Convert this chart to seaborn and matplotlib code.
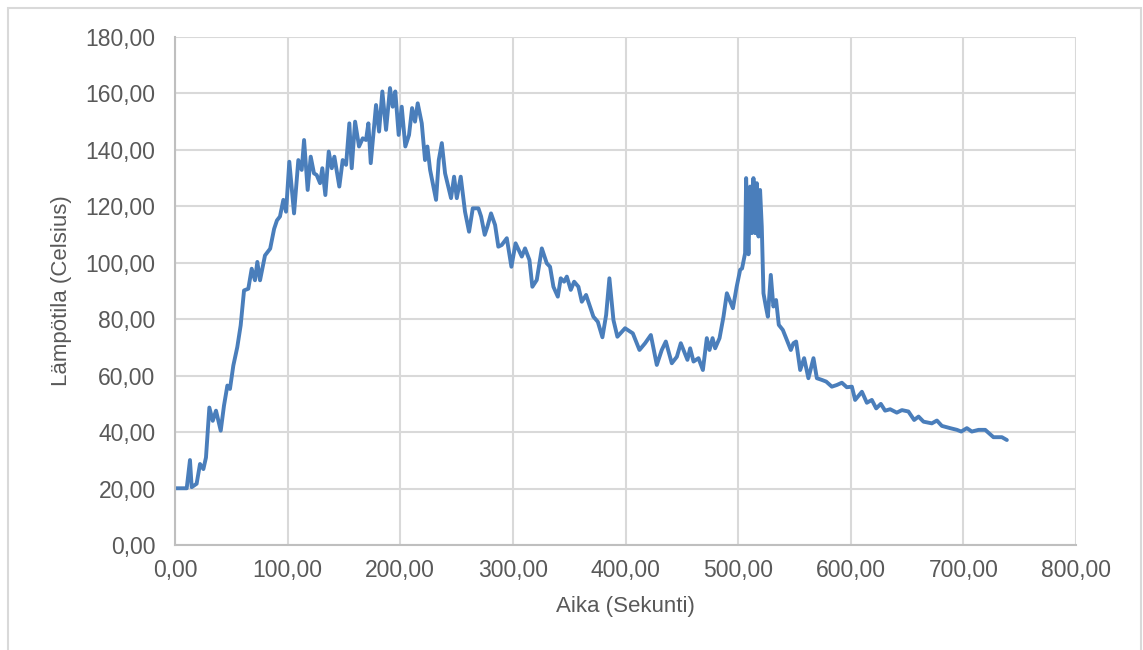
import numpy as np
import pandas as pd
import seaborn as sns
from matplotlib import pyplot as plt
from matplotlib.patches import Rectangle
from matplotlib.ticker import FuncFormatter, MultipleLocator

# time (s) and temperature (C)
aika = [
    0, 10.4, 13.3, 14.8, 19.2, 22.2, 25.2, 27.5, 30.5, 33.5, 36.4, 40.6, 43.5, 46.5, 48.8,
    51.8, 55.3, 58.3, 61.3, 65.1, 68.1, 71.0, 73.1, 75.5, 79.9, 84.5, 88, 90.5, 93.2, 96.2,
    98.6, 101.5, 105.7, 109.5, 112.5, 114.6, 117.8, 120.5, 123.4, 125.8, 128.8, 130.8, 133.5,
    136.5, 139.2, 141.5, 145.9, 148.9, 151.9, 154.8, 156.9, 159.9, 163.4, 166.7, 169.6, 171.7,
    173.8, 178.5, 181.2, 184.1, 187.4, 190.9, 193.3, 195.6, 198.6, 201.3, 204.5, 207.8, 210.5,
    213.1, 215.5, 219.1, 222, 224.1, 226.5, 231.8, 234.2, 236.9, 239.8, 245.1, 247.8, 250.2,
    253.7, 257.5, 261.1, 264.4, 269.4, 271.8, 275, 277.4, 280.6, 284.2, 287.1, 290.1, 294.6,
    298.7, 302.4, 305.8, 307.9, 310.8, 314.7, 317.3, 321.2, 325.7, 330.1, 333, 336, 339.9,
    342.5, 345.5, 347.9, 351.4, 354.4, 358.2, 361.2, 365, 371.5, 375.4, 379.5, 382.8, 385.7,
    389.3, 392.8, 399.6, 406.5, 412.4, 417.4, 422.5, 427.8, 432.2, 435.8, 441.1, 445.6, 449.1,
    452.7, 455, 457.4, 460.4, 464.8, 468.7, 472.2, 474.6, 477.3, 479.6, 483.5, 487, 490,
    495.4, 498.7, 501.8, 503.5, 506.2, 507.1, 509.2, 510.7, 512.2, 513.6, 515.1, 516.6, 518.1,
    519.5, 521, 522.5, 524.6, 526.4, 529, 531.3, 533.7, 536.1, 539.7, 543.8, 546.8, 549.1,
    551.5, 555.1, 558.6, 562.4, 566.9, 569.9, 574.3, 578.2, 583.2, 587.7, 592.1, 596.5, 601,
    603.9, 609.9, 614.3, 618.7, 622.6, 626.7, 630.5, 635, 640.9, 645.4, 651.2, 656.3, 660.2,
    664.6, 672, 676.5, 680.9, 688.3, 694.3, 698.1, 703.1, 707.5, 713.5, 719.4, 726.7, 734.2,
    738.6,
]
lampotila = [
    20.1, 20.1, 30.1, 20.5, 21.7, 28.7, 26.9, 31, 48.7, 44.0, 47.6, 40.5, 49.4, 56.5, 55.3,
    63.6, 70.1, 77.8, 90.2, 90.8, 97.9, 93.8, 100.3, 93.8, 102.6, 105, 112, 115, 116.4, 122.3,
    118.1, 135.8, 117.5, 136.4, 132.9, 143.5, 125.8, 137.6, 131.7, 131.1, 128.2, 133.5, 124,
    139.4, 133.5, 137.6, 127, 136.4, 134.7, 149.4, 133.5, 150, 141.2, 144.1, 143.5, 149.4,
    135.3, 155.9, 146.5, 160.7, 147.1, 161.9, 155.3, 160.7, 145.3, 155.3, 141.2, 145.3, 154.8,
    150, 156.5, 149.4, 136.4, 141.2, 132.9, 122.3, 136.4, 142.4, 131.7, 122.9, 130.5, 122.9,
    130.5, 118.1, 111, 119.3, 119.3, 116.4, 109.9, 112.8, 117.5, 113.4, 105.7, 106.3, 108.7,
    98.6, 106.9, 104, 102.2, 105.1, 101, 91.5, 93.9, 105.1, 99.8, 98.6, 91.5, 88,
    94.5, 93.3, 95.1, 90.4, 93.3, 91.5, 86.2, 88.6, 80.9, 79.1, 73.6, 81.5, 94.5,
    79.7, 73.8, 76.8, 75, 69.1, 71.5, 74.4, 63.8, 69.1, 72.1, 64.4, 66.7, 71.5,
    67.9, 65.6, 69.7, 65, 66.2, 62, 73.3, 69.1, 73.3, 69.7, 73.3, 80.9, 89.2,
    83.9, 91.5, 97.5, 98, 103.4, 130, 103, 127, 110.5, 130, 110.5, 128.2, 109.3,
    125.8, 112.8, 89.2, 84.5, 80.9, 95.7, 84.5, 86.8, 78, 76.2, 72.1, 69.1, 71.5,
    72.1, 62, 66.2, 59.1, 66.2, 59.1, 58.5, 57.9, 56.1, 56.7, 57.5, 55.9, 56.1,
    51.4, 54.3, 50.4, 51.4, 48.4, 50, 47.6, 48.1, 46.9, 47.8, 47.3, 44.3, 45.5,
    43.7, 43.1, 44.1, 42.2, 41.4, 40.8, 40.2, 41.4, 40.2, 40.8, 40.8, 38.2, 38.2,
    37.2,
]

df = pd.DataFrame({"aika": aika, "lampotila": lampotila})

sns.set_style("whitegrid")
plt.rcParams["font.family"] = ["Liberation Sans", "DejaVu Sans"]

fig = plt.figure(figsize=(11.43, 6.5), dpi=100)
ax = fig.add_axes([175 / 1143, 1 - 545 / 650, 901 / 1143, 508 / 650])

sns.lineplot(data=df, x="aika", y="lampotila", ax=ax, estimator=None,
             color="#4A7EBB", linewidth=2.8, solid_joinstyle="round",
             solid_capstyle="round")

ax.set_xlim(0, 800)
ax.set_ylim(0, 180)
ax.xaxis.set_major_locator(MultipleLocator(100))
ax.yaxis.set_major_locator(MultipleLocator(20))
fmt = FuncFormatter(lambda v, p: f"{v:.2f}".replace(".", ","))
ax.xaxis.set_major_formatter(fmt)
ax.yaxis.set_major_formatter(fmt)

ax.grid(True, color="#D9D9D9", linewidth=1.5)
for side in ["top", "right"]:
    ax.spines[side].set_visible(False)
for side in ["left", "bottom"]:
    ax.spines[side].set_color("#BFBFBF")
    ax.spines[side].set_linewidth(1.5)

ax.tick_params(axis="both", labelsize=16.5, colors="#595959", length=0)
ax.tick_params(axis="y", pad=14)
ax.tick_params(axis="x", pad=10)
ax.set_xlabel("Aika (Sekunti)", fontsize=16, color="#595959", labelpad=10)
ax.set_ylabel("Lämpötila (Celsius)", fontsize=16, color="#595959", labelpad=10)

# chart frame like the spreadsheet export
fig.patches.append(Rectangle((8 / 1143, -0.05), 1133 / 1143, 1.05 - 8 / 650,
                             transform=fig.transFigure, fill=False,
                             edgecolor="#D9D9D9", linewidth=1.5))

fig.savefig("out.png", dpi=100)
